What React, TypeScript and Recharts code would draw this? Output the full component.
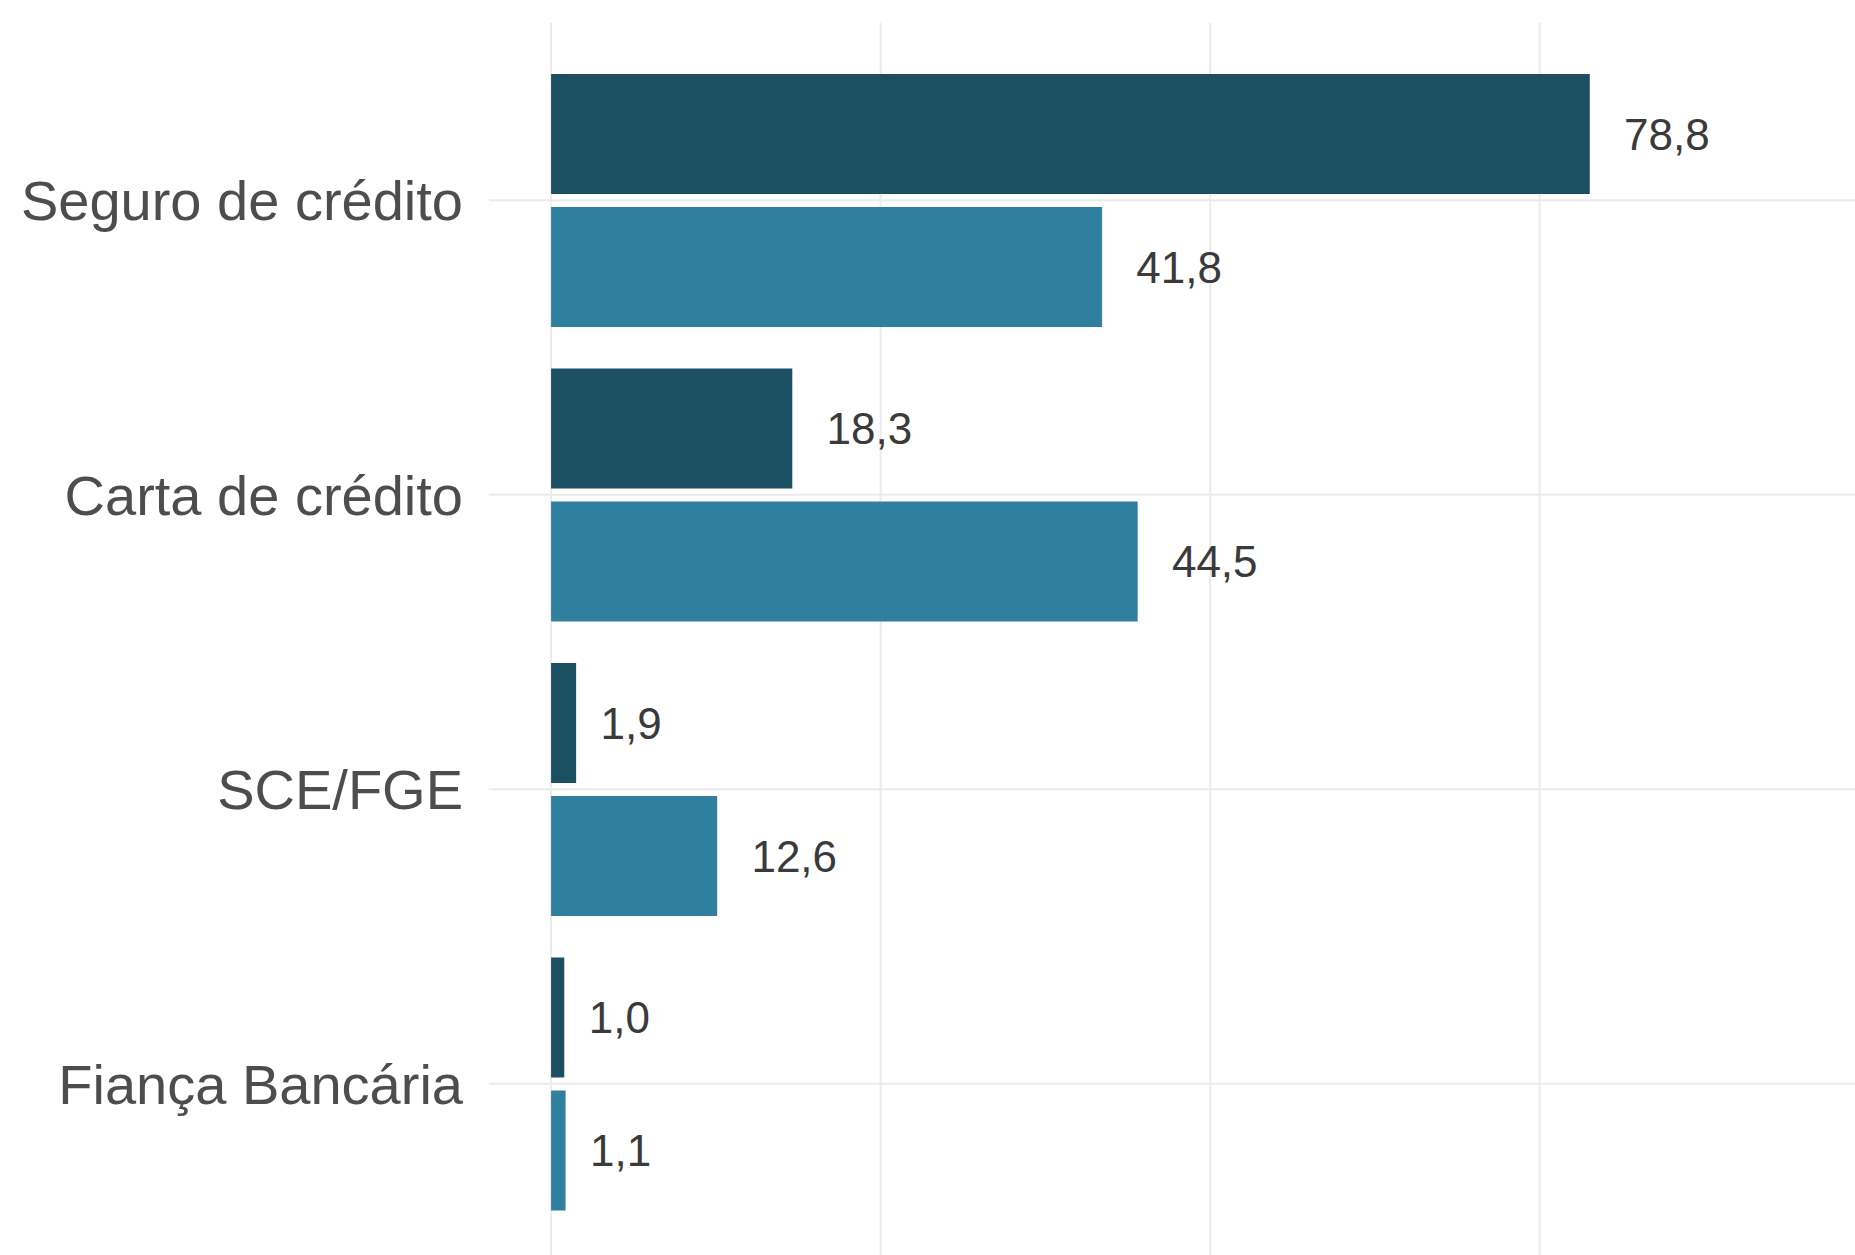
import { BarChart, Bar, XAxis, YAxis, CartesianGrid, LabelList } from "recharts";

const categorias = ["Seguro de crédito", "Carta de crédito", "SCE/FGE", "Fiança Bancária"];
const serieEscura = [78.8, 18.3, 1.9, 1.0];
const serieClara = [41.8, 44.5, 12.6, 1.1];
const ticksX = [0, 25, 50, 75];

const data = categorias.map((categoria, i) => ({
  categoria,
  escura: serieEscura[i],
  clara: serieClara[i],
}));

const FONT = '"Liberation Sans", Arial, Helvetica, sans-serif';
const LABEL_SIZE = 44;

const fmt = (v: number) => v.toFixed(1).replace(".", ",");

// rough Arial advance widths, used to push labels out by a fraction of their width
function textWidth(s: string, size: number) {
  let w = 0;
  for (const ch of s) w += ch === "," ? 0.278 : 0.556;
  return w * size;
}

// scales handed to the grid generators can be plain d3 fns or wrapped objects
function applyScale(scale: any, v: any): number {
  if (typeof scale === "function") return scale(v);
  return scale.map(v);
}

function bandwidthOf(scale: any): number {
  if (scale && typeof scale.bandwidth === "function") return scale.bandwidth();
  return 0;
}

function ValueLabel(props: any) {
  const { x, y, width, height, value } = props;
  const txt = fmt(Number(value));
  const tx = Number(x) + Number(width) + 0.4 * textWidth(txt, LABEL_SIZE);
  return (
    <text
      x={tx}
      y={Number(y) + Number(height) / 2}
      dy="0.355em"
      textAnchor="start"
      fill="#3a3a3a"
      fontSize={LABEL_SIZE}
      fontFamily={FONT}
    >
      {txt}
    </text>
  );
}

function CategoryTick(props: any) {
  const { x, y, payload } = props;
  return (
    <text
      x={x}
      y={y}
      dy="0.355em"
      textAnchor="end"
      fill="#4d4d4d"
      fontSize={56}
      fontFamily={FONT}
    >
      {payload.value}
    </text>
  );
}

export default function App() {
  return (
    <div style={{ width: 1855, height: 1255, overflow: "hidden", background: "#fff" }}>
      <style>{`body{margin:0}`}</style>
      <BarChart
        width={1855}
        height={1255}
        data={data}
        layout="vertical"
        barGap={13}
        margin={{ top: 23, right: 0, bottom: 0, left: 0 }}
      >
        <CartesianGrid
          stroke="#ebebeb"
          strokeWidth={2}
          verticalCoordinatesGenerator={({ xAxis }: any) =>
            ticksX.map((t) => applyScale(xAxis.scale, t))
          }
          horizontalCoordinatesGenerator={({ yAxis }: any) =>
            categorias.map(
              (c) => applyScale(yAxis.scale, c) + bandwidthOf(yAxis.scale) / 2
            )
          }
        />
        <XAxis
          type="number"
          domain={[-4.71, 98.92]}
          ticks={ticksX}
          allowDataOverflow
          tick={false}
          axisLine={false}
          tickLine={false}
          height={0}
        />
        <YAxis
          type="category"
          dataKey="categoria"
          width={489}
          axisLine={false}
          tickLine={false}
          tickSize={0}
          tickMargin={26}
          tick={<CategoryTick />}
          padding={{ top: 30, bottom: 24 }}
        />
        <Bar dataKey="escura" fill="#1d4f63" barSize={120} isAnimationActive={false}>
          <LabelList dataKey="escura" content={ValueLabel} />
        </Bar>
        <Bar dataKey="clara" fill="#2f809e" barSize={120} isAnimationActive={false}>
          <LabelList dataKey="clara" content={ValueLabel} />
        </Bar>
      </BarChart>
    </div>
  );
}
